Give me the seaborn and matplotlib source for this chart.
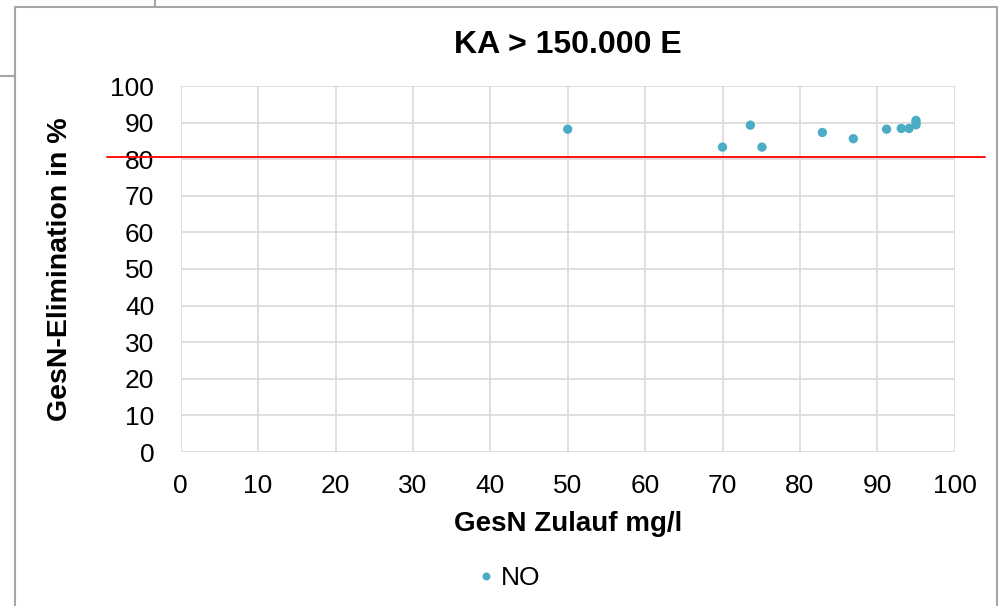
import matplotlib
matplotlib.use("Agg")
import matplotlib.pyplot as plt
import seaborn as sns
import pandas as pd
from matplotlib.lines import Line2D

title = "KA > 150.000 E"
x_label = "GesN Zulauf mg/l"
y_label = "GesN-Elimination in %"
series_name = "NO"
zulauf = [50.0, 70.0, 73.6, 75.1, 82.9, 86.9, 91.2, 93.1, 94.1, 95.0, 95.0, 95.0]
elimination = [88.2, 83.3, 89.3, 83.3, 87.3, 85.6, 88.2, 88.4, 88.4, 90.6, 90.0, 89.4]
threshold = 80.5
x_ticks = list(range(0, 101, 10))
y_ticks = list(range(0, 101, 10))

df = pd.DataFrame({"x": zulauf, "y": elimination, "Serie": [series_name] * len(zulauf)})

sns.set_theme(style="white")
plt.rcParams["font.family"] = ["Liberation Sans", "DejaVu Sans"]
plt.rcParams["text.color"] = "black"
plt.rcParams["axes.labelcolor"] = "black"

W, H = 998, 606
fig = plt.figure(figsize=(W / 100, H / 100), dpi=100)
ax = fig.add_axes([180.7 / W, 1 - 452 / H, (954.7 - 180.7) / W, (452 - 86) / H])

color = "#4BACC6"
sns.scatterplot(data=df, x="x", y="y", hue="Serie", palette=[color], s=45,
                edgecolor="none", ax=ax, zorder=3)

ax.set_xlim(0, 100)
ax.set_ylim(0, 100)
ax.set_xticks(x_ticks)
ax.set_yticks(y_ticks)
ax.tick_params(axis="both", labelsize=19, length=0, colors="black")
ax.tick_params(axis="y", pad=19)
ax.tick_params(axis="x", pad=16)
ax.grid(True, color="#d9d9d9", linewidth=1.2)
for sp in ax.spines.values():
    sp.set_visible(False)

ax.set_xlabel(x_label, fontsize=20, fontweight="bold", labelpad=9, color="black")
ax.set_ylabel(y_label, fontsize=20.5, fontweight="bold", labelpad=27, color="black")
ax.set_title(title, fontsize=23, fontweight="bold", pad=24, color="black")

# red threshold line extending beyond the plot area
ax.axhline(threshold, xmin=(107 - 180.7) / 774, xmax=(985 - 180.7) / 774,
           color="#ff0000", linewidth=1.3, clip_on=False, zorder=4)

leg = ax.legend(loc="center", bbox_to_anchor=(500 / W, 1 - 578 / H),
                bbox_transform=fig.transFigure, frameon=False, fontsize=19,
                handletextpad=-0.45, markerscale=0.85)
for t in leg.get_texts():
    t.set_color("black")

# outer frame lines (chart area border)
gray = "#a6a6a6"
def fline(x0, y0, x1, y1):
    fig.add_artist(Line2D([x0 / W, x1 / W], [1 - y0 / H, 1 - y1 / H],
                          transform=fig.transFigure, color=gray, linewidth=1.5))
fline(15, 7, 997, 7)
fline(15, 7, 15, 606)
fline(997, 7, 997, 606)
fline(0, 76, 15, 76)
fline(155, 0, 155, 7)

fig.savefig("out.png", dpi=100)
